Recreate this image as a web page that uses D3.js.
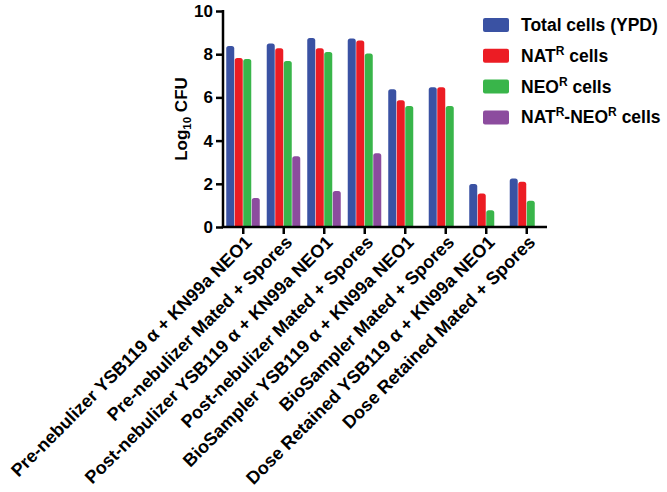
<!DOCTYPE html>
<html><head><meta charset="utf-8">
<script src="https://cdn.jsdelivr.net/npm/d3@7"></script>
<style>body{margin:0;background:#fff}svg{display:block}text{font-family:"Liberation Sans",Arial,sans-serif;font-weight:bold}</style>
</head><body><svg id="c" width="667" height="492"></svg>
<script>
const categories = ["Pre-nebulizer YSB119 \u03b1 + KN99a NEO1","Pre-nebulizer Mated + Spores","Post-nebulizer YSB119 \u03b1 + KN99a NEO1","Post-nebulizer Mated + Spores","BioSampler YSB119 \u03b1 + KN99a NEO1","BioSampler Mated + Spores","Dose Retained YSB119 \u03b1 + KN99a NEO1","Dose Retained Mated + Spores"];
const seriesNames = ["Total cells (YPD)","NATR cells","NEOR cells","NATR-NEOR cells"];
const totalCells = [8.38, 8.5, 8.75, 8.73, 6.38, 6.47, 1.99, 2.25];
const natCells   = [7.82, 8.27, 8.27, 8.63, 5.87, 6.47, 1.55, 2.1];
const neoCells   = [7.78, 7.68, 8.1, 8.03, 5.6, 5.6, 0.78, 1.22];
const natNeoCells= [1.34, 3.28, 1.67, 3.42, null, null, null, null];
const yTicks = [0,2,4,6,8,10];
const colors = ["#3a52a3","#ec1c24","#39b54a","#8c4c9e"];

const series = [totalCells, natCells, neoCells, natNeoCells];
const svg = d3.select("#c");
const x = d3.scaleBand().domain(categories).range([223,547]).paddingInner(0.16).paddingOuter(0.08);
const x1 = d3.scaleBand().domain(d3.range(4)).range([0, x.bandwidth()]).padding(0);
const y = d3.scaleLinear().domain([0,10]).range([227,11]);

const xc = d3.scaleBand().domain(categories).range([223,547]);

categories.forEach((c,i)=>{
  series.forEach((s,j)=>{
    const v = s[i];
    if (v==null) return;
    const bx = xc(c) + xc.bandwidth()/2 - x.bandwidth()/2 + x1(j);
    const w = x1.bandwidth()-0.5;
    const top = y(v), bot = y(0), r = 2.5;
    svg.append("path")
      .attr("d", `M${bx},${bot} L${bx},${top+r} Q${bx},${top} ${bx+r},${top} L${bx+w-r},${top} Q${bx+w},${top} ${bx+w},${top+r} L${bx+w},${bot} Z`)
      .attr("fill", colors[j]);
  });
});

// y axis
const ya = svg.append("g").attr("transform","translate(223,0)")
  .call(d3.axisLeft(y).tickValues(yTicks).tickSize(7).tickPadding(3).tickFormat(d3.format("d")));
ya.select(".domain").attr("stroke","#000").attr("stroke-width",2.5).attr("d","M0,227V10");
ya.selectAll(".tick line").attr("stroke-width",2.5);
ya.selectAll("text").attr("font-size",17).attr("fill","#000").style("font-weight","bold");

// x axis
const xa = svg.append("g").attr("transform","translate(0,227)")
  .call(d3.axisBottom(xc).tickSize(7).tickSizeOuter(0));
xa.select(".domain").attr("stroke","#000").attr("stroke-width",2.5).attr("d","M221.75,0H547");
xa.selectAll(".tick line").attr("stroke-width",2.5);
xa.selectAll("text").attr("font-size",18).attr("fill","#000").style("font-weight","bold")
  .attr("text-anchor","end").attr("transform","translate(5,12) rotate(-45)").attr("dy","0.35em").attr("y",0).attr("x",0);

// y title
const yt = svg.append("text").attr("transform","translate(187,119) rotate(-90)").attr("text-anchor","middle").attr("font-size",17);
yt.append("tspan").text("Log");
yt.append("tspan").attr("font-size",11.5).attr("dy",4).text("10");
yt.append("tspan").attr("dy",-4).text(" CFU");

// legend
const leg = svg.append("g");
const legLabels = [["Total cells (YPD)"],["NAT","R"," cells"],["NEO","R"," cells"],["NAT","R","-NEO","R"," cells"]];
legLabels.forEach((parts,i)=>{
  const cy = 25 + i*30.8;
  leg.append("rect").attr("x",483).attr("y",cy-7).attr("width",26).attr("height",14).attr("rx",2).attr("fill",colors[i]);
  const t = leg.append("text").attr("x",521).attr("y",cy+6).attr("font-size",17.5);
  let sup=false;
  parts.forEach((p,k)=>{
    const isSup = (p==="R");
    const ts = t.append("tspan").text(p);
    if (isSup && !sup){ ts.attr("font-size",12).attr("dy",-7); sup=true; }
    else if (!isSup && sup){ ts.attr("dy",7); sup=false; }
  });
});
</script></body></html>
